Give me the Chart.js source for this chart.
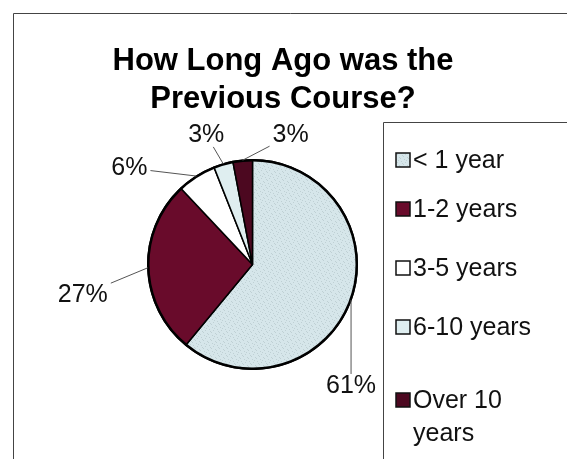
<!DOCTYPE html>
<html>
<head>
<meta charset="utf-8">
<script src="https://cdn.jsdelivr.net/npm/chart.js@4"></script>
<style>
  html, body { margin: 0; padding: 0; background: #ffffff; }
  #wrap { width: 567px; height: 459px; position: relative; }
</style>
</head>
<body>
<div id="wrap"><canvas id="c" width="567" height="459"></canvas></div>
<script>
// ---- data ----
const titleLines = ["How Long Ago was the", "Previous Course?"];
const categories = ["< 1 year", "1-2 years", "3-5 years", "6-10 years", "Over 10 years"];
const legendLines = [["< 1 year"], ["1-2 years"], ["3-5 years"], ["6-10 years"], ["Over 10", "years"]];
const values = [61, 27, 6, 3, 3];
const valueLabels = ["61%", "27%", "6%", "3%", "3%"];

// ---- styles ----
function makeStipple(base, dot) {
  const c = document.createElement('canvas');
  c.width = 8; c.height = 8;
  const g = c.getContext('2d');
  g.fillStyle = base; g.fillRect(0, 0, 8, 8);
  g.fillStyle = dot;
  [[1,1],[5,2],[3,4],[7,5],[0,6],[4,7],[6,0],[2,3]].forEach(p => g.fillRect(p[0], p[1], 1, 1));
  return g.createPattern(c, 'repeat');
}
const colors = [
  makeStipple('#d6e6ea', '#bfd0d4'),
  '#690b2b',
  '#ffffff',
  '#dfeef0',
  '#4c0820'
];
const labelOffsets = [[0, 86], [-65, 27], [-67, -8], [-17, -29], [48, -25]];

const framePlugin = {
  id: 'frame',
  beforeDraw(chart) {
    const c = chart.ctx;
    c.save();
    c.fillStyle = '#fff';
    c.fillRect(0, 0, chart.width, chart.height);
    c.strokeStyle = '#444';
    c.lineWidth = 1;
    c.beginPath();
    c.moveTo(13.5, 459); c.lineTo(13.5, 13.5); c.lineTo(567, 13.5);
    c.stroke();
    c.beginPath();
    c.moveTo(383.5, 459); c.lineTo(383.5, 122.5); c.lineTo(567, 122.5);
    c.stroke();
    // title
    c.fillStyle = '#000';
    c.font = 'bold 31px "Liberation Sans", Arial, sans-serif';
    c.textAlign = 'center';
    c.textBaseline = 'alphabetic';
    c.fillText(titleLines[0], 283, 70);
    c.fillText(titleLines[1], 283, 108);
    c.restore();
  },
  afterDatasetsDraw(chart) {
    const c = chart.ctx;
    const meta = chart.getDatasetMeta(0);
    c.save();
    // heavier outer rim
    const a0 = meta.data[0].getProps(['x', 'y', 'outerRadius'], true);
    c.strokeStyle = '#000';
    c.lineWidth = 2.5;
    c.beginPath();
    c.arc(a0.x, a0.y, a0.outerRadius - 0.5, 0, Math.PI * 2);
    c.stroke();

    c.font = '25px "Liberation Sans", Arial, sans-serif';
    c.textAlign = 'center';
    c.textBaseline = 'middle';
    meta.data.forEach((arc, i) => {
      const p = arc.getProps(['x', 'y', 'startAngle', 'endAngle', 'outerRadius'], true);
      const mid = (p.startAngle + p.endAngle) / 2;
      const ax = p.x + Math.cos(mid) * p.outerRadius;
      const ay = p.y + Math.sin(mid) * p.outerRadius;
      const lx = ax + labelOffsets[i][0];
      const ly = ay + labelOffsets[i][1];
      const w = c.measureText(valueLabels[i]).width;
      const hw = w / 2 + 3, hh = 12;
      const dx = ax - lx, dy = ay - ly;
      const t = Math.min(dx !== 0 ? hw / Math.abs(dx) : Infinity, dy !== 0 ? hh / Math.abs(dy) : Infinity);
      if (t < 1) {
        c.strokeStyle = '#555';
        c.lineWidth = 1;
        c.beginPath();
        c.moveTo(lx + dx * t, ly + dy * t);
        c.lineTo(ax, ay);
        c.stroke();
      }
      c.fillStyle = '#111';
      c.fillText(valueLabels[i], lx, ly);
    });
    // legend
    const rows = [[160], [209], [268], [327], [400, 433]];
    c.font = '25px "Liberation Sans", Arial, sans-serif';
    c.textAlign = 'left';
    legendLines.forEach((lines, i) => {
      const y0 = rows[i][0];
      c.fillStyle = colors[i];
      c.fillRect(396, y0 - 7, 14, 14);
      c.strokeStyle = '#111';
      c.lineWidth = 1.5;
      c.strokeRect(396, y0 - 7, 14, 14);
      c.fillStyle = '#111';
      lines.forEach((ln, j) => c.fillText(ln, 413, rows[i][j] + 1));
    });
    c.restore();
  }
};

new Chart(document.getElementById('c'), {
  type: 'pie',
  data: {
    labels: categories,
    datasets: [{
      data: values,
      backgroundColor: colors,
      borderColor: '#000',
      borderWidth: 1.5
    }]
  },
  options: {
    responsive: false,
    animation: false,
    layout: { padding: { left: 147, right: 209, top: 159, bottom: 89 } },
    plugins: {
      legend: { display: false },
      title: { display: false },
      tooltip: { enabled: false }
    }
  },
  plugins: [framePlugin]
});
</script>
</body>
</html>
